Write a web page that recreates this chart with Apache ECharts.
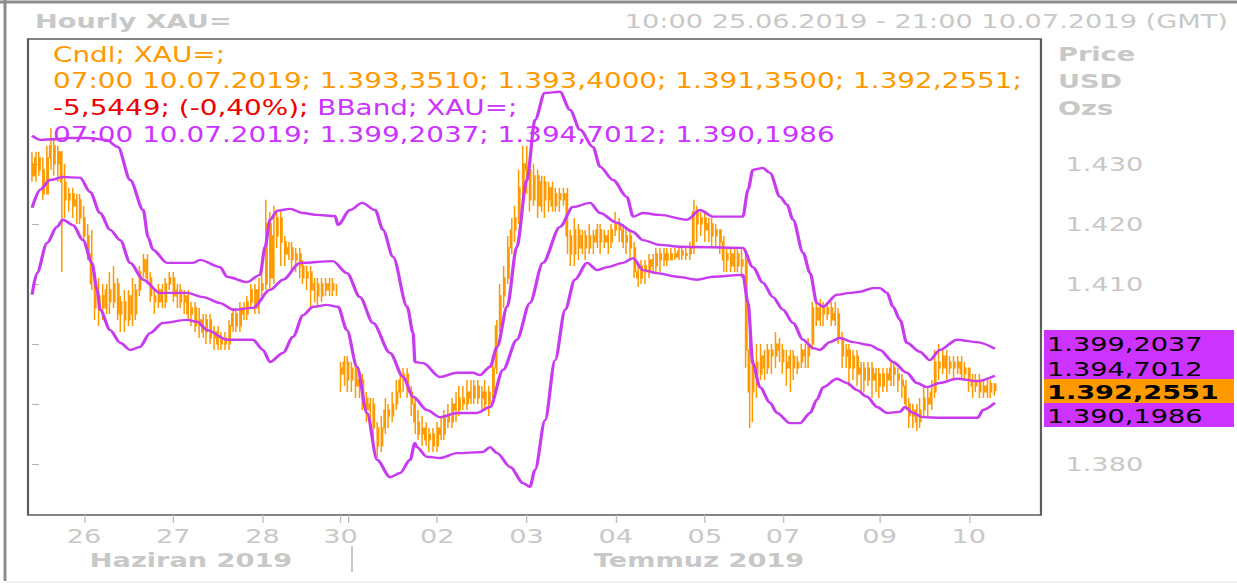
<!DOCTYPE html>
<html>
<head>
<meta charset="utf-8">
<title>Hourly XAU=</title>
<script src="https://cdn.jsdelivr.net/npm/echarts@6/dist/echarts.min.js"></script>
<style>
  html, body { margin: 0; padding: 0; background: #fff; overflow: hidden; }
  /* the source picture is stretched sideways, so the chart is drawn narrower and scaled */
  #myChart { width: 910px; height: 585px; transform: scaleX(1.3593); transform-origin: 0 0; }
</style>
</head>
<body>
<div id="myChart"></div>
<script>
// hourly candles, 10:00 25.06.2019 .. 07:00 10.07.2019 (trading hours only, index = hour)
var opens = [
  1430,1428,1431,1429,1425,1431,1433,1430,1432,1427,
  1424,1425,1423,1424,1421,1418,1415,1410,1406,1408,
  1406,1409,1407,1410,1405,1407,1404,1408,1405,1409,
  1412,1414,1411,1408,1407,1409,1407,1410,1411,1408,
  1409,1407,1408,1405,1406,1403,1404,1402,1404,1401,
  1402,1400,1401,1400,1403,1405,1403,1406,1405,1407,
  1409,1406,1409,1410,1420,1411,1418,1421,1417,1415,
  1416,1414,1415,1413,1411,1412,1409,1410,1408,1410,
  1409,1410,1409,1396,1395,1397,1394,1396,1393,1394,
  1391,1389,1390,1386,1383,1386,1389,1388,1390,1392,
  1394,1395,1392,1390,1387,1385,1386,1384,1385,1383,
  1386,1385,1388,1387,1390,1389,1391,1390,1392,1391,
  1393,1391,1392,1390,1392,1396,1403,1408,1411,1416,
  1419,1421,1426,1430,1429,1424,1428,1423,1427,1424,
  1426,1423,1425,1424,1425,1418,1415,1419,1416,1418,
  1416,1418,1417,1419,1417,1418,1417,1419,1420,1419,
  1417,1418,1416,1412,1411,1413,1412,1414,1413,1415,
  1414,1415,1414,1415,1414.5,1415.5,1414.8,1415,1416,1422,
  1420,1421,1419,1420,1418,1419,1417,1414,1415,1413,
  1415,1413,1414,1399,1392,1397,1395,1398,1396,1399,
  1398,1400,1399,1397,1396,1398,1396,1397,1399,1398,
  1400,1406,1404,1406,1405,1406,1404,1405,1401,1398,
  1399,1396,1398,1395,1396,1394,1396,1394,1395,1393,
  1395,1394,1396,1395,1394,1393,1390,1388,1389,1387,
  1389,1391,1390,1392,1397,1396,1398,1396,1397,1396,
  1397,1395,1396,1394,1393,1394,1392,1393,1392,1393.351
];
var closes = [
  1428,1431,1429,1425,1431,1433,1430,1432,1427,1424,
  1425,1423,1424,1421,1418,1415,1410,1406,1408,1406,
  1409,1407,1410,1405,1407,1404,1408,1405,1409,1412,
  1414,1411,1408,1407,1409,1407,1410,1411,1408,1409,
  1407,1408,1405,1406,1403,1404,1402,1404,1401,1402,
  1400,1401,1400,1403,1405,1403,1406,1405,1407,1409,
  1406,1409,1410,1420,1411,1418,1421,1417,1415,1416,
  1414,1415,1413,1411,1412,1409,1410,1408,1410,1409,
  1410,1409,1409,1395,1397,1394,1396,1393,1394,1391,
  1389,1390,1386,1383,1386,1389,1388,1390,1392,1394,
  1395,1392,1390,1387,1385,1386,1384,1385,1383,1386,
  1385,1388,1387,1390,1389,1391,1390,1392,1391,1393,
  1391,1392,1390,1392,1396,1403,1408,1411,1416,1419,
  1421,1426,1430,1429,1424,1428,1423,1427,1424,1426,
  1423,1425,1424,1425,1418,1415,1419,1416,1418,1416,
  1418,1417,1419,1417,1418,1417,1419,1420,1419,1417,
  1418,1416,1412,1411,1413,1412,1414,1413,1415,1414,
  1415,1414,1415,1414.5,1415.5,1414.8,1415,1416,1422,1420,
  1421,1419,1420,1418,1419,1417,1414,1415,1413,1415,
  1413,1414,1399,1392,1397,1395,1398,1396,1399,1398,
  1400,1399,1397,1396,1398,1396,1397,1399,1398,1400,
  1406,1404,1406,1405,1406,1404,1405,1401,1398,1399,
  1396,1398,1395,1396,1394,1396,1394,1395,1393,1395,
  1394,1396,1395,1394,1393,1390,1388,1389,1387,1389,
  1391,1390,1392,1397,1396,1398,1396,1397,1396,1397,
  1395,1396,1394,1393,1394,1392,1393,1392,1393.4,1392.2551
];
var lows = [
  1427,1427,1428,1424,1425,1429,1428,1427,1412,1421,
  1422,1421,1420,1420,1417,1414,1409,1404,1403,1404,
  1405,1405,1406,1404,1402,1402,1403,1403,1404,1408,
  1411,1410,1407,1405,1406,1406,1406,1409,1407,1406,
  1406,1405,1404,1403,1402,1401,1401,1400,1400,1399,
  1399,1399,1399,1399,1402,1402,1402,1404,1404,1406,
  1405,1405,1408,1409,1409,1410,1416,1413,1413,1414,
  1412,1412,1411,1410,1409,1406,1407,1406,1407,1408,
  1408,1408,1408,1392,1393,1392,1392,1391,1391,1389,
  1387,1387,1384,1381,1382,1385,1386,1387,1389,1391,
  1392,1391,1388,1385,1384,1383,1383,1382,1382,1382,
  1384,1384,1386,1386,1387,1388,1389,1389,1390,1390,
  1390,1389,1389,1388,1391,1395,1402,1406,1410,1415,
  1417,1420,1424,1425,1422,1423,1421,1422,1421,1422,
  1422,1422,1422,1423,1415,1413,1413,1414,1415,1414,
  1415,1415,1416,1415,1416,1415,1416,1418,1417,1416,
  1415,1414,1411,1409.5,1410,1410,1411,1412,1412,1412,
  1413,1413,1414,1414,1414,1414,1414,1414,1415,1417,
  1418,1417,1417,1416,1416,1415,1412,1412,1412,1412,
  1412,1411,1396,1386,1387,1391,1394,1394,1395,1395,
  1396,1397,1395,1393,1392,1394,1395,1396,1396,1396,
  1399,1403,1403,1403,1404,1403,1403,1400,1396,1396,
  1393,1394,1393,1392,1392,1393,1391,1392,1391,1392,
  1392,1393,1393,1392,1391,1389,1386,1386,1385.5,1386,
  1388,1388,1389,1391,1394,1395,1394,1395,1394,1395,
  1394,1394,1392,1391,1392,1391,1391,1391,1391,1391.35
];
var highs = [
  1432,1432,1432,1431,1433,1436,1434,1433,1432,1430,
  1426,1426,1425,1425,1423,1420,1419,1412,1411,1410,
  1410,1412,1413,1411,1408,1409,1409,1411,1410,1413,
  1415,1415,1412,1409,1410,1410,1411,1412,1412,1410,
  1410,1409,1409,1407,1407,1406,1405,1405,1405,1403,
  1403,1402,1402,1404,1406,1406,1407,1407,1408,1410,
  1410,1411,1413,1424,1422,1423,1422,1422,1418,1417,
  1417,1416,1416,1414,1413,1413,1411,1411,1411,1411,
  1411,1411,1410,1397,1398,1398,1397,1397,1395,1395,
  1392,1391,1391,1387,1388,1391,1390,1392,1394,1395,
  1396,1396,1393,1391,1389,1388,1387,1386,1386,1387,
  1388,1389,1390,1391,1392,1393,1393,1394,1394,1394,
  1394,1393,1394,1393,1397,1404,1410,1413,1418,1421,
  1423,1429,1433,1433,1431,1430,1429,1428,1428,1427,
  1427,1426,1426,1426,1426,1419,1421,1420,1419,1419,
  1420,1419,1420,1420,1419,1419,1420,1422,1421,1420,
  1419,1419,1417,1413,1414,1414,1415,1415,1416,1416,
  1416,1416,1416,1416,1416,1416,1416,1417,1424,1423,
  1422,1422,1421,1421,1420,1419,1418,1416,1416,1416,
  1416,1416,1415,1402,1399,1400,1400,1399,1400,1400,
  1402,1401,1400,1399,1399,1399,1398,1400,1400,1401,
  1407,1407,1407.5,1407,1407,1407,1407,1406,1402,1400,
  1400,1399,1399,1397,1397,1397,1397,1396,1396,1396,
  1396,1397,1397,1396,1395,1394,1391,1390,1390,1391,
  1393,1393,1394,1399,1400,1399,1399,1398,1398,1398,
  1398,1397,1396,1395,1395,1395,1394,1394,1394,1393.4
];

// bollinger bands, [hour, price]
var upperBand = [
  [0,1434.7],[2.3,1434],[6,1434.1],[10,1434.3],[15,1434.3],[20,1434],[23.1,1432.8],[26.4,1427.3],
  [29.9,1422.3],[31.2,1417.8],[32.5,1415.7],[36.3,1413.5],[43.3,1413.5],[45.2,1414],[50.6,1412.8],
  [52.4,1411.2],[57.8,1410.3],[61.3,1411.5],[62.7,1416.2],[64,1420.7],[66,1422.2],[69.4,1422.5],
  [72.9,1421.8],[76.7,1421.5],[81.5,1421.3],[82.3,1419.8],[85.5,1422.3],[88.8,1423.5],[92.3,1422.3],
  [94.4,1419],[97.1,1414.5],[100.9,1406.2],[102.5,1401.8],[103,1397],[105.2,1396.8],[109.7,1394.5],
  [114.3,1395.2],[118.6,1395.2],[120.5,1394.8],[123.2,1396.2],[125.1,1399.5],[127.8,1406.2],
  [130.4,1416.2],[133.1,1427.3],[135.3,1437.3],[137.9,1441.8],[142,1442],[144.7,1439],[147.4,1435.7],
  [150.9,1432.8],[152.8,1429.5],[156.3,1427.3],[160,1424.5],[161.7,1421.2],[164.3,1421.8],
  [168.9,1421.5],[176.2,1420.7],[179.7,1422.3],[183.2,1421.2],[191.2,1421.2],[192.6,1425.7],
  [193.9,1429],[196.6,1429.3],[198.5,1428.5],[201.2,1424.5],[203.1,1423.2],[204.7,1420.7],
  [207.4,1415.2],[209.3,1411.8],[211.1,1406.8],[212.8,1406.2],[216.5,1408.2],[220,1408.5],
  [222.7,1408.7],[226.2,1409.3],[228.1,1409.3],[230,1408.5],[231.6,1406.2],[233.5,1404],
  [235.3,1400.2],[238.8,1398.7],[241.5,1397.3],[244.2,1399],[248.8,1400.7],[254.2,1400.3],[259,1399.2]
];
var middleBand = [
  [0,1422.7],[2.2,1425.7],[4.8,1427.3],[8.3,1427.8],[12.9,1427.7],[15.6,1425.3],[18.3,1421.8],
  [21,1419],[23.7,1417.3],[26.4,1413.5],[29.9,1410.7],[34.4,1408.5],[41.7,1408.5],[46,1407.8],
  [50.6,1406.8],[54.1,1405.7],[59.4,1406],[64,1409],[67.5,1410.7],[72.1,1413.5],[80.9,1413.8],
  [84.7,1411.8],[88.2,1407.8],[91.7,1403.5],[96.3,1398.5],[99.8,1394.5],[102.5,1391.2],[106.2,1389],
  [109.7,1387.8],[114.3,1388.5],[119.7,1388.5],[123.2,1389.5],[126.7,1395.7],[130.4,1400.7],
  [133.9,1406.8],[137.4,1413.5],[142,1419.5],[145.5,1422.8],[150.1,1423.5],[152.8,1421.8],
  [157.3,1420.2],[161.6,1418.7],[164.3,1417.3],[168.9,1416.5],[174.3,1416.2],[191.2,1416],
  [193.9,1412.8],[196.6,1410.2],[199.3,1407.8],[202,1405.7],[204.7,1403.5],[207.4,1400.7],
  [210.1,1399.3],[211.9,1399],[214.6,1400.3],[217.3,1401],[220.8,1400.3],[225.4,1399.8],
  [228.1,1399],[231.6,1397],[235.3,1395.2],[238,1393.5],[240.7,1392.8],[244.2,1393.5],
  [248.8,1394.2],[254.2,1393.8],[259,1394.7]
];
var lowerBand = [
  [0,1408.2],[1.3,1411.8],[4,1416.8],[6.7,1419.5],[8.3,1420.7],[11,1419.8],[13.7,1417.3],[16.1,1413.5],
  [17.5,1409],[18.3,1405.7],[21,1402.3],[23.7,1400.2],[26.4,1399],[29,1399.5],[31.7,1401.8],
  [35.2,1403.5],[41.7,1404],[44.4,1403.7],[47.1,1402.3],[52.4,1400.7],[59.4,1400.7],[62.1,1399],
  [64,1397],[67.5,1398.5],[70.2,1401.2],[72.9,1404.8],[75.6,1406.2],[79.3,1406.5],[82.3,1406.2],
  [84.7,1402.3],[87.4,1396.2],[90.1,1388.5],[92.8,1380.7],[96.3,1377.8],[99,1378.5],[101.7,1380.7],
  [103,1383.5],[103.5,1382.8],[106.2,1381.2],[109.7,1381],[114.3,1381.8],[121.3,1382],[123.2,1382.8],
  [125.1,1381.8],[128.6,1379.5],[132.1,1376.8],[133.9,1376.2],[135.3,1379],[138,1387.3],[140.7,1397.3],
  [143.4,1405.7],[146,1410.7],[149.3,1413.5],[152,1412.3],[154.7,1412.8],[159,1413.5],[161.7,1414.3],
  [164.3,1412.3],[168.1,1411.8],[173.5,1411.2],[178.9,1410.7],[183.2,1411.2],[191.2,1411.5],
  [192.6,1406.8],[193.9,1396.8],[195.8,1392.8],[198.5,1390.2],[200.4,1388.5],[203.9,1386.8],
  [206.6,1386.8],[209.3,1388.5],[211.1,1390.7],[212.8,1392.8],[216.5,1394.2],[219.2,1393.5],
  [221.9,1392.3],[224.6,1391.2],[227.3,1389.5],[230,1388.5],[233.5,1388.7],[234.8,1389.5],[237,1388.5],
  [239.6,1387.8],[244.2,1387.7],[254.4,1387.7],[255.8,1389],[259,1390.2]
];

// day ticks (hour index) and their labels; 85 = month change, no label
var tickHours = [14, 38, 62, 83, 85, 109, 133, 157, 181, 202, 228, 252];
var dayLabels = ['26', '27', '28', '30', '', '02', '03', '04', '05', '07', '09', '10'];
var monthLabels = ['Haziran 2019', 'Temmuz 2019'];
var priceTicks = [1380, 1390, 1400, 1410, 1420, 1430];
var priceLabels = [1380, 1410, 1420, 1430];
var lastTags = ['1.399,2037', '1.394,7012', '1.392,2551', '1.390,1986'];
var legendLines = [
  'Cndl; XAU=;',
  '07:00 10.07.2019; 1.393,3510; 1.393,4000; 1.391,3500; 1.392,2551;',
  '{r|-5,5449; (-0,40%);} {p|BBand; XAU=;}',
  '07:00 10.07.2019; 1.399,2037; 1.394,7012; 1.390,1986'
];

(function () {
  var S = 1237 / 910; // horizontal stretch of the page
  function sx(x) { return x / S; }

  var orange = '#ff9900';
  var purple = '#cc33ff';
  var bandColor = '#c83cf0';
  var red = '#ee0000';
  var gray = '#c8c8c8';
  var fam = '"DejaVu Sans", Verdana, sans-serif';
  var font = '20px ' + fam;
  var bold = 'bold 20px ' + fam;

  var candles = opens.map(function (o, i) {
    return [i, o, closes[i], lows[i], highs[i]];
  });
  var labelHours = tickHours.filter(function (h, k) { return dayLabels[k] !== ''; });

  function thousands(v) {
    return String(v).replace(/\B(?=(\d{3})+(?!\d))/g, '.');
  }

  var graphic = [
    // outer frame of the picture
    { type: 'line', shape: { x1: 0, y1: 2, x2: 910, y2: 2 }, style: { stroke: '#8c8c8c', lineWidth: 3 } },
    { type: 'line', shape: { x1: sx(5), y1: 0, x2: sx(5), y2: 581 }, style: { stroke: '#8c8c8c', lineWidth: 2.2 } },
    { type: 'line', shape: { x1: sx(6), y1: 582, x2: 910, y2: 582 }, style: { stroke: '#e6e6e6', lineWidth: 1 } },
    // titles
    { type: 'text', x: sx(35), y: 21, style: { text: 'Hourly XAU=', font: bold, fill: gray, verticalAlign: 'middle' } },
    { type: 'text', x: sx(1228), y: 21, style: { text: '10:00 25.06.2019 - 21:00 10.07.2019 (GMT)', font: font, fill: gray, align: 'right', verticalAlign: 'middle' } },
    { type: 'text', x: sx(1058), y: 54, style: { text: 'Price', font: bold, fill: gray, verticalAlign: 'middle' } },
    { type: 'text', x: sx(1058), y: 81, style: { text: 'USD', font: bold, fill: gray, verticalAlign: 'middle' } },
    { type: 'text', x: sx(1058), y: 108, style: { text: 'Ozs', font: bold, fill: gray, verticalAlign: 'middle' } },
    // month row under the days
    { type: 'text', x: sx(191), y: 560, style: { text: monthLabels[0], font: bold, fill: gray, align: 'center', verticalAlign: 'middle' } },
    { type: 'text', x: sx(699), y: 560, style: { text: monthLabels[1], font: bold, fill: gray, align: 'center', verticalAlign: 'middle' } },
    { type: 'line', shape: { x1: sx(352), y1: 546, x2: sx(352), y2: 572 }, style: { stroke: gray, lineWidth: 1.5 } }
  ];

  // legend lines inside the plot
  var legendFill = [orange, orange, red, purple];
  legendLines.forEach(function (t, k) {
    graphic.push({
      type: 'text', x: sx(53), y: 54.5 + k * 26.7, z: 10,
      style: {
        text: t, font: '20.5px ' + fam, fill: legendFill[k], verticalAlign: 'middle',
        rich: {
          r: { fill: red, font: '20.5px ' + fam },
          p: { fill: purple, font: '20.5px ' + fam }
        }
      }
    });
  });

  // last value tags at the right
  var tagBoxes = [[330, 49, purple], [379, 24, orange], [403, 24, purple]];
  tagBoxes.forEach(function (b) {
    graphic.push({ type: 'rect', z: 10, shape: { x: sx(1044), y: b[0], width: sx(1234) - sx(1044), height: b[1] }, style: { fill: b[2] } });
  });
  var tagY = [344, 369, 392, 416];
  lastTags.forEach(function (t, k) {
    graphic.push({ type: 'text', z: 11, x: sx(1047), y: tagY[k], style: { text: t, font: k === 2 ? bold : font, fill: '#000', verticalAlign: 'middle' } });
  });

  var myChart = echarts.init(document.getElementById('myChart'), null, { renderer: 'svg' });
  var option = {
    animation: false,
    grid: {
      left: sx(28), right: 910 - sx(1041), top: 39, bottom: 70,
      show: true, borderColor: '#5c5c5c', borderWidth: 1.6, backgroundColor: '#fff',
      containLabel: false, outerBoundsMode: 'none'
    },
    xAxis: {
      type: 'value',
      min: -1.1,
      max: 271.4,
      axisLine: { show: false },
      splitLine: { show: false },
      axisTick: { customValues: tickHours, length: 8, lineStyle: { color: '#c0c0c0' } },
      axisLabel: {
        customValues: labelHours,
        margin: 11,
        color: gray,
        fontSize: 20,
        fontFamily: fam,
        formatter: function (v) {
          var k = tickHours.indexOf(v);
          return k >= 0 ? dayLabels[k] : '';
        }
      }
    },
    yAxis: {
      type: 'value',
      position: 'right',
      min: 1371.5,
      max: 1450.8,
      axisLine: { show: false },
      splitLine: { show: false },
      axisTick: { customValues: priceTicks, length: 5, lineStyle: { color: '#b0b0b0' } },
      axisLabel: {
        customValues: priceLabels,
        margin: 18,
        color: gray,
        fontSize: 20,
        fontFamily: fam,
        formatter: thousands
      }
    },
    series: [
      {
        name: 'Cndl; XAU=',
        type: 'candlestick',
        data: candles,
        dimensions: ['hour', 'open', 'close', 'lowest', 'highest'],
        encode: { x: 'hour', y: ['open', 'close', 'lowest', 'highest'] },
        barWidth: 1.5,
        itemStyle: {
          color: orange, color0: orange,
          borderColor: orange, borderColor0: orange, borderColorDoji: orange,
          borderWidth: 1.1
        },
        z: 2
      },
      {
        name: 'BBand upper', type: 'line', data: upperBand, symbol: 'none',
        smooth: 0.3, smoothMonotone: 'x', lineStyle: { color: bandColor, width: 2.4 }, z: 3
      },
      {
        name: 'BBand middle', type: 'line', data: middleBand, symbol: 'none',
        smooth: 0.3, smoothMonotone: 'x', lineStyle: { color: bandColor, width: 2.4 }, z: 3
      },
      {
        name: 'BBand lower', type: 'line', data: lowerBand, symbol: 'none',
        smooth: 0.3, smoothMonotone: 'x', lineStyle: { color: bandColor, width: 2.4 }, z: 3
      }
    ],
    graphic: graphic
  };
  myChart.setOption(option);
})();
</script>
</body>
</html>
